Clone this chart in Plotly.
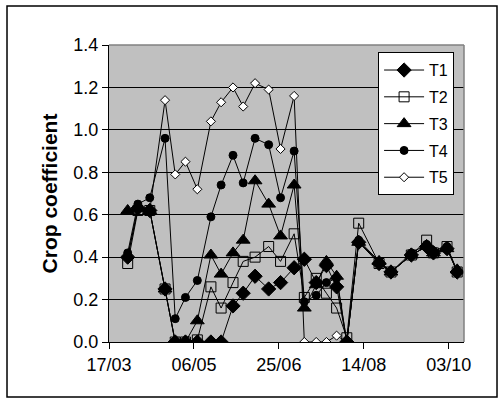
import plotly.graph_objects as go

dates = ["2005-03-28", "2005-04-03", "2005-04-10", "2005-04-19", "2005-04-25", "2005-05-01",
         "2005-05-08", "2005-05-16", "2005-05-22", "2005-05-29", "2005-06-04", "2005-06-11",
         "2005-06-19", "2005-06-26", "2005-07-04", "2005-07-10", "2005-07-17", "2005-07-23",
         "2005-07-29", "2005-08-04", "2005-08-11", "2005-08-23", "2005-08-30", "2005-09-11",
         "2005-09-20", "2005-09-24", "2005-10-02", "2005-10-08"]

T1 = [0.40, 0.63, 0.62, 0.25, 0, 0, 0, 0, 0, 0.17, 0.23, 0.31, 0.25, 0.28, 0.35, 0.39,
      0.28, 0.36, 0.26, 0, 0.47, 0.37, 0.33, 0.41, 0.45, 0.42, 0.44, 0.33]
T2 = [0.37, 0.62, 0.62, 0.25, 0, 0, 0.01, 0.26, 0.16, 0.28, 0.38, 0.40, 0.45, 0.38, 0.51, 0.21,
      0.30, 0.23, 0.16, 0.02, 0.56, 0.37, 0.33, 0.41, 0.48, 0.42, 0.45, 0.33]
T3 = [0.62, 0.63, 0.62, 0.25, 0, 0, 0.10, 0.41, 0.32, 0.42, 0.48, 0.76, 0.65, 0.50, 0.74, 0.16,
      0.27, 0.38, 0.31, 0, 0.47, 0.38, 0.33, 0.41, 0.45, 0.42, 0.44, 0.34]
T4 = [0.42, 0.65, 0.68, 0.96, 0.11, 0.21, 0.29, 0.59, 0.74, 0.88, 0.75, 0.96, 0.93, 0.68, 0.90, 0.19,
      0.22, 0.28, 0.30, 0, 0.48, 0.38, 0.33, 0.42, 0.46, 0.43, 0.45, 0.33]
T5 = [0.40, 0.63, 0.62, 1.14, 0.79, 0.85, 0.72, 1.04, 1.13, 1.20, 1.11, 1.22, 1.19, 0.91, 1.16, 0,
      0, 0, 0.03, 0, 0.47, 0.38, 0.33, 0.41, 0.45, 0.42, 0.44, 0.33]

series = [
    ("T5", T5, 5, dict(symbol="diamond", size=7, color="white", line=dict(color="black", width=1))),
    ("T1", T1, 1, dict(symbol="diamond", size=11, color="black", line=dict(color="black", width=1))),
    ("T2", T2, 2, dict(symbol="square-open", size=10, color="black", line=dict(color="black", width=1))),
    ("T3", T3, 3, dict(symbol="triangle-up", size=12, color="black", line=dict(color="black", width=1))),
    ("T4", T4, 4, dict(symbol="circle", size=8, color="black", line=dict(color="black", width=1))),
]

fig = go.Figure()
for name, vals, rank, mk in series:
    fig.add_trace(go.Scatter(x=dates, y=vals, name=name, mode="lines+markers",
                             line=dict(color="black", width=1), marker=mk,
                             legendgroup=name, legendrank=rank))

FONT = "Liberation Sans, Arial, sans-serif"
DAY = 86400000

fig.update_layout(
    width=504, height=403,
    margin=dict(l=109, r=40, t=45, b=61),
    paper_bgcolor="white", plot_bgcolor="#c0c0c0",
    font=dict(family=FONT, size=18, color="black"),
    showlegend=True,
    legend=dict(x=0.758, y=0.976, xanchor="left", yanchor="top",
                bgcolor="white", bordercolor="black", borderwidth=1,
                font=dict(size=16), tracegroupgap=3, itemwidth=40),
    xaxis=dict(type="date", range=["2005-03-17", "2005-10-12"], tick0="2005-03-17",
               dtick=50 * DAY, tickformat="%d/%m", showgrid=False,
               showline=True, linecolor="black", linewidth=1,
               ticks="outside", ticklen=6, tickcolor="black", zeroline=False),
    yaxis=dict(range=[0, 1.4], dtick=0.2, tickformat=".1f", showgrid=True,
               gridcolor="black", gridwidth=1, showline=True, linecolor="black",
               linewidth=1, ticks="outside", ticklen=6, tickcolor="black", zeroline=False,
               title=dict(text="<b>Crop coefficient</b>", font=dict(size=21), standoff=10)),
    shapes=[
        dict(type="line", xref="paper", yref="paper", x0=0, x1=1, y0=1, y1=1,
             line=dict(color="#808080", width=1.5)),
        dict(type="line", xref="paper", yref="paper", x0=1, x1=1, y0=0, y1=1,
             line=dict(color="#808080", width=1.5)),
        dict(type="rect", xref="paper", yref="paper", x0=-0.2873, x1=1.093, y0=-0.185, y1=1.131,
             line=dict(color="black", width=1.5)),
    ],
)

fig.write_html("out.html", config={"displayModeBar": False},
               post_script="document.body.style.margin='0px';")
